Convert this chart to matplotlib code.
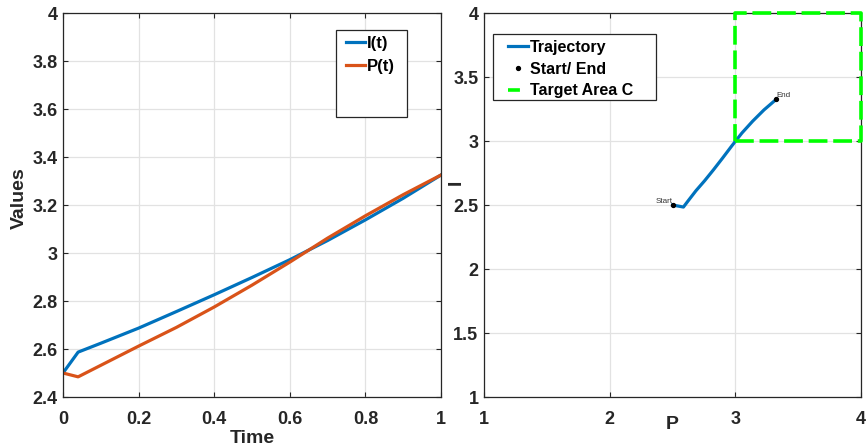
import matplotlib
matplotlib.use("Agg")
import matplotlib.pyplot as plt
from matplotlib.patches import Rectangle
from matplotlib.lines import Line2D

plt.rcParams['font.family'] = ['Liberation Sans', 'DejaVu Sans']
plt.rcParams['font.weight'] = 'bold'

# ---- data ----
time = [0.0, 0.04, 0.1, 0.2, 0.3, 0.4, 0.5, 0.6, 0.7, 0.8, 0.9, 1.0]
I_vals = [2.5, 2.587, 2.624, 2.687, 2.756, 2.826, 2.898, 2.972, 3.052, 3.138, 3.228, 3.325]
P_vals = [2.5, 2.484, 2.532, 2.612, 2.690, 2.775, 2.866, 2.962, 3.062, 3.155, 3.243, 3.325]

left_xticks = [0, 0.2, 0.4, 0.6, 0.8, 1.0]
left_xticklabels = ["0", "0.2", "0.4", "0.6", "0.8", "1"]
left_yticks = [2.4, 2.6, 2.8, 3.0, 3.2, 3.4, 3.6, 3.8, 4.0]
left_yticklabels = ["2.4", "2.6", "2.8", "3", "3.2", "3.4", "3.6", "3.8", "4"]
right_xticks = [1, 2, 3, 4]
right_xticklabels = ["1", "2", "3", "4"]
right_yticks = [1, 1.5, 2, 2.5, 3, 3.5, 4]
right_yticklabels = ["1", "1.5", "2", "2.5", "3", "3.5", "4"]
target_P = [3, 4]
target_I = [3, 4]

BLUE = '#0072BD'
ORANGE = '#D95319'
AX = '#262626'
GRID = '#e2e2e2'

W, H = 867, 448
fig = plt.figure(figsize=(W / 100, H / 100), dpi=100)

def px_axes(x0, x1, y0, y1):
    return fig.add_axes([x0 / W, 1 - y1 / H, (x1 - x0) / W, (y1 - y0) / H])

def style(ax):
    for s in ax.spines.values():
        s.set_color(AX)
        s.set_linewidth(0.9)
    ax.tick_params(direction='in', length=3.5, width=0.8, colors=AX,
                   top=True, right=True, labelsize=13)
    ax.grid(True, color=GRID, linewidth=0.9)
    ax.set_axisbelow(True)
    for lab in ax.get_xticklabels() + ax.get_yticklabels():
        lab.set_fontweight('bold')

def legend_box(ax, x0, y0, x1, y1):
    r = Rectangle((x0 / W, 1 - y1 / H), (x1 - x0) / W, (y1 - y0) / H,
                  transform=fig.transFigure, fill=True, facecolor='white',
                  edgecolor=AX, linewidth=0.9, zorder=5, clip_on=False)
    ax.add_artist(r)

# ---- left axes ----
ax1 = px_axes(63, 441, 13, 397)
l1, = ax1.plot(time, I_vals, color=BLUE, lw=2.3, label='I(t)')
l2, = ax1.plot(time, P_vals, color=ORANGE, lw=2.3, label='P(t)')
ax1.set_xlim(0, 1)
ax1.set_ylim(2.4, 4)
ax1.set_xticks(left_xticks)
ax1.set_xticklabels(left_xticklabels, fontweight='bold')
ax1.set_yticks(left_yticks)
ax1.set_yticklabels(left_yticklabels, fontweight='bold')
style(ax1)
ax1.tick_params(axis='x', pad=10)
ax1.tick_params(axis='y', pad=4)
ax1.set_xlabel('Time', fontsize=14, fontweight='bold', color=AX)
ax1.xaxis.set_label_coords(0.5, -0.085)
ax1.set_ylabel('Values', fontsize=14, fontweight='bold', color=AX)
ax1.yaxis.set_label_coords(-0.093, 0.517)

legend_box(ax1, 336, 30, 407, 117)
leg1 = ax1.legend(handles=[l1, l2], loc='upper left',
                  bbox_to_anchor=(346 / W, 1 - 36 / H), bbox_transform=fig.transFigure,
                  frameon=False, borderpad=0, borderaxespad=0, handlelength=1.15,
                  handletextpad=0.12, labelspacing=0.45,
                  prop={'weight': 'bold', 'size': 12})
leg1.set_zorder(6)

# ---- right axes ----
ax2 = px_axes(484, 861, 13, 397)
tr, = ax2.plot(I_vals, P_vals, color=BLUE, lw=2.3, label='Trajectory')
se, = ax2.plot([I_vals[0], I_vals[-1]], [P_vals[0], P_vals[-1]], 'o', color='black',
               markersize=2.8, linestyle='none', label='Start/ End', zorder=4)
ax2.text(I_vals[0], P_vals[0], 'Start', fontsize=5.8, fontweight='normal', color='#333333',
         ha='right', va='bottom')
ax2.text(I_vals[-1], P_vals[-1], 'End', fontsize=5.8, fontweight='normal', color='#333333',
         ha='left', va='bottom')
tg, = ax2.plot([target_P[0], target_P[1], target_P[1], target_P[0], target_P[0]],
               [target_I[0], target_I[0], target_I[1], target_I[1], target_I[0]],
               color='#00FF00', lw=2.6, dashes=(5.2, 1.6), label='Target Area C',
               clip_on=False, zorder=3)
ax2.set_xlim(1, 4)
ax2.set_ylim(1, 4)
ax2.set_xticks(right_xticks)
ax2.set_xticklabels(right_xticklabels, fontweight='bold')
ax2.set_yticks(right_yticks)
ax2.set_yticklabels(right_yticklabels, fontweight='bold')
style(ax2)
ax2.tick_params(axis='x', pad=10)
ax2.tick_params(axis='y', pad=4)
ax2.set_xlabel('P', fontsize=14, fontweight='bold', color=AX)
ax2.xaxis.set_label_coords(0.5, -0.05)
ax2.set_ylabel('I', fontsize=14, fontweight='bold', color=AX)
ax2.yaxis.set_label_coords(-0.05, 0.56)

legend_box(ax2, 493, 34, 656, 100)
leg_tg = Line2D([], [], color='#00FF00', lw=2.6, dashes=(3.3, 5))
leg2 = ax2.legend(handles=[tr, se, leg_tg], labels=['Trajectory', 'Start/ End', 'Target Area C'],
                  loc='upper left',
                  bbox_to_anchor=(508 / W, 1 - 40 / H), bbox_transform=fig.transFigure,
                  frameon=False, borderpad=0, borderaxespad=0, handlelength=1.25,
                  handletextpad=0.15, labelspacing=0.42,
                  prop={'weight': 'bold', 'size': 11.5})
leg2.set_zorder(6)

fig.savefig('out.png', dpi=100)
